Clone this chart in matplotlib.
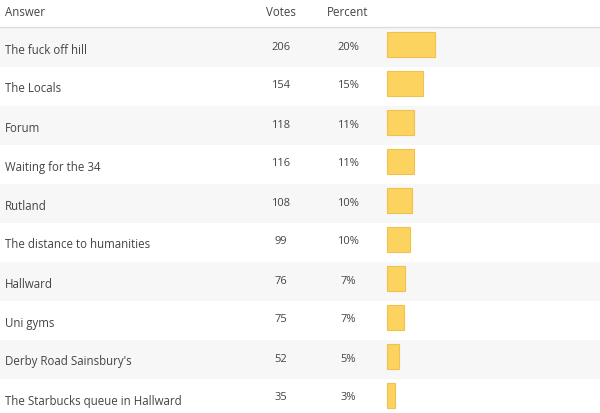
import matplotlib
matplotlib.use("Agg")
import matplotlib.pyplot as plt
from matplotlib.patches import Rectangle

answers = ["The fuck off hill", "The Locals", "Forum", "Waiting for the 34", "Rutland",
           "The distance to humanities", "Hallward", "Uni gyms", "Derby Road Sainsbury's",
           "The Starbucks queue in Hallward"]
votes = [206, 154, 118, 116, 108, 99, 76, 75, 52, 35]
percents = ["20%", "15%", "11%", "11%", "10%", "10%", "7%", "7%", "5%", "3%"]
headers = ["Answer", "Votes", "Percent"]

W, H = 600, 413
fig = plt.figure(figsize=(6, 4.13), dpi=100)
ax = fig.add_axes([0, 0, 1, 1])
ax.set_xlim(0, W)
ax.set_ylim(H, 0)
ax.axis("off")
plt.rcParams['font.family'] = ['Open Sans', 'DejaVu Sans']
tc = "#444444"
fs = 8.3

ax.text(5, 13, headers[0], fontsize=fs, color=tc, va="center")
ax.text(281, 13, headers[1], fontsize=fs, color=tc, va="center", ha="center")
ax.text(348, 13, headers[2], fontsize=fs, color=tc, va="center", ha="center")
ax.plot([0, W], [27, 27], color="#dddddd", lw=1)

top = 27.5
pitch = 39
scale = 48 / 206
ys = [top + pitch * i + pitch / 2 for i in range(len(answers))]
for i, y in enumerate(ys):
    if i % 2 == 0:
        ax.add_patch(Rectangle((0, y - pitch / 2), W, pitch, facecolor="#f7f7f7", edgecolor="none", zorder=0))
    ax.text(5, y + 3, answers[i], fontsize=fs, color=tc, va="center")
    ax.text(281, y, str(votes[i]), fontsize=fs - 0.3, color=tc, va="center", ha="center")
    ax.text(348, y, percents[i], fontsize=fs - 0.3, color=tc, va="center", ha="center")

ax.barh([y - 3 for y in ys], [v * scale for v in votes], left=387, height=25,
        color="#fdd35f", edgecolor="#f0c050", linewidth=0.8, zorder=2)

fig.savefig("out.png", dpi=100)
